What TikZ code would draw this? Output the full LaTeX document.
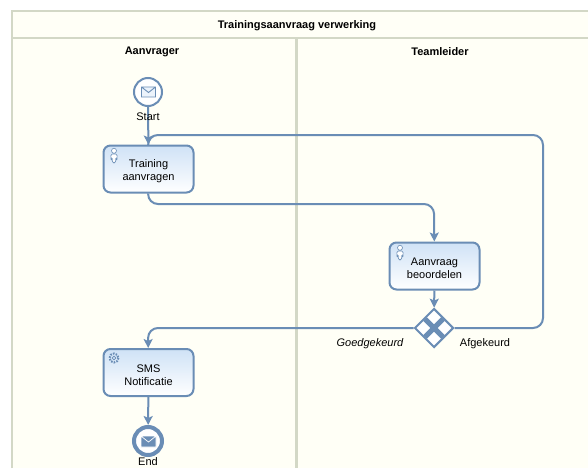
\documentclass[tikz,border=0pt]{standalone}
\usepackage{fontspec}
\setmainfont{Liberation Sans}
\usetikzlibrary{shapes.geometric,arrows.meta}
\definecolor{poolfill}{HTML}{FFFFF6}
\definecolor{poolline}{HTML}{D3D8C6}
\definecolor{bpmnline}{HTML}{6A8DB5}
\definecolor{taskblue}{HTML}{CFE2F6}
\newcommand{\firstrow}{\rule{0pt}{13pt}}
\newcommand{\personicon}{%
  \draw[bpmnline,fill=white,line width=.6pt] (0,2.8) circle (2.5);
  \draw[bpmnline,fill=white,line width=.6pt,rounded corners=1.5pt] (-3.2,6) -- (3.2,6) -- (3,11) -- (1.6,11) -- (1.6,15) -- (-1.6,15) -- (-1.6,11) -- (-3,11) -- cycle;
}
\tikzset{
  lane/.style={font=\fontsize{11}{13}\selectfont\bfseries},
  task/.style={draw=bpmnline,line width=2pt,rounded corners=7pt,top color=taskblue,bottom color=white,
    minimum width=90pt,minimum height=47pt,align=center,inner sep=0pt,font=\fontsize{11}{13}\selectfont},
  event/.style={circle,draw=bpmnline,fill=white,minimum size=28pt,inner sep=0pt},
  gate/.style={diamond,draw=bpmnline,line width=2pt,fill=white,minimum size=39pt,inner sep=0pt},
  caption/.style={font=\fontsize{11}{13}\selectfont},
  flow/.style={draw=bpmnline,line width=2pt,rounded corners=10pt,-{Stealth[length=9pt,width=9pt,inset=2pt]}},
}
\begin{document}
\begin{tikzpicture}[x=1pt,y=-1pt]
  \useasboundingbox (0,0) rectangle (588,468);
  \fill[poolfill] (12,11) rectangle (588,468);
  \draw[poolline,line width=2pt] (12,468) -- (12,11) -- (588,11);
  \draw[poolline,line width=2pt] (12,38) -- (588,38);
  \draw[poolline,line width=3pt] (296,38) -- (296,468);
  \node[lane] (pool) at (297,25.5) {Trainingsaanvraag verwerking};
  \node[lane] (lane1) at (152,51.5) {Aanvrager};
  \node[lane] (lane2) at (440,51.5) {Teamleider};

  \coordinate (trainturn) at (148,204);
  \coordinate (judgeturn) at (434,204);
  \coordinate (smsturn) at (148,328);
  \coordinate (backlow) at (543,328);
  \coordinate (backhigh) at (543,135);
  \coordinate (backturn) at (148,135);

  \node[task] (train) at (148.5,169) {\firstrow Training\\aanvragen};
  \node[task] (judge) at (434.5,266) {\firstrow Aanvraag\\beoordelen};
  \node[gate] (xor) at (434,328) {};
  \node[task] (sms) at (148.5,372.5) {\firstrow SMS\\Notificatie};
  \node[event,line width=2pt] (start) at (148,92) {};
  \node[event,line width=4pt] (end) at (148,441) {};

  \begin{scope}[flow]
    \draw[flow] (start) to (train);
    \draw[flow] (train) -- (trainturn) -- (judgeturn) -- (judge);
    \draw[flow] (judge) to (xor);
    \draw[flow] (xor.west) -- (smsturn) -- (sms);
    \draw[flow,-] (xor.east) -- (backlow) -- (backhigh) -- (backturn) -- (train);
    \draw[flow] (sms) to (end);
  \end{scope}

  \node[caption] (startlabel) at (148,117) {Start};
  \node[caption] (endlabel) at (148,461.5) {End};
  \node[caption,font=\fontsize{11}{13}\selectfont\itshape] (oklabel) at (370,343.5) {Goedgekeurd};
  \node[caption] (noklabel) at (485,343.5) {Afgekeurd};

  \draw[bpmnline,line width=5pt] (425,319) -- (443,337) (443,319) -- (425,337);
  \draw[bpmnline,fill=taskblue!40,line width=.9pt] (141.5,87) rectangle (155.5,97) (141.5,87) -- (148.5,92.5) -- (155.5,87);
  \draw[white,fill=bpmnline,line width=.7pt] (141,436) rectangle (156,447) (141,436) -- (148.5,442) -- (156,436);
  \begin{scope}[shift={(114,148)}]
    \personicon
  \end{scope}
  \begin{scope}[shift={(400,245)}]
    \personicon
  \end{scope}
  \draw[bpmnline,line width=2pt,dash pattern=on 1.6pt off 1.2pt] (114,358) circle (4.5);
  \draw[bpmnline,line width=.7pt] (114,358) circle (1.8);
\end{tikzpicture}
\end{document}
